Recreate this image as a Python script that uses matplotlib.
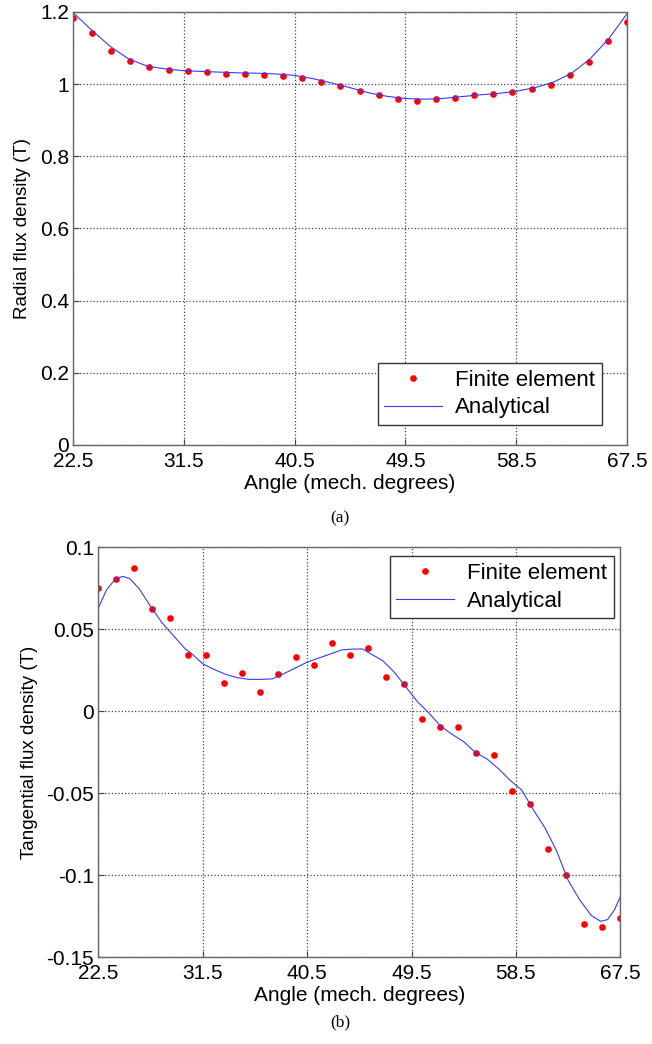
import numpy as np
import matplotlib
matplotlib.use("Agg")
import matplotlib.pyplot as plt
from matplotlib.ticker import FuncFormatter

plt.rcParams['font.family'] = ['Liberation Sans', 'DejaVu Sans']
plt.rcParams['axes.unicode_minus'] = False

# finite element samples: 30 points from 22.5 to 67.5 deg
fe_angle = np.linspace(22.5, 67.5, 30)
fe_radial = [1.184, 1.142, 1.092, 1.064, 1.046, 1.039, 1.036, 1.033, 1.029, 1.029,
             1.026, 1.022, 1.018, 1.005, 0.995, 0.980, 0.969, 0.959, 0.954, 0.959,
             0.962, 0.969, 0.973, 0.977, 0.987, 0.997, 1.025, 1.060, 1.120, 1.172]
fe_tangential = [0.0754, 0.0805, 0.0872, 0.0627, 0.0570, 0.0342, 0.0342, 0.0172, 0.0231, 0.0121,
                 0.0225, 0.0334, 0.0283, 0.0415, 0.0342, 0.0387, 0.0211, 0.0166, -0.0049, -0.0093,
                 -0.0093, -0.0255, -0.0269, -0.0484, -0.0564, -0.0837, -0.0999, -0.1299, -0.1315, -0.1262]

# analytical solution
an_angle_r = np.arange(22.5, 67.6, 1.5)
an_radial = [1.198, 1.150, 1.105, 1.070, 1.050, 1.042, 1.037, 1.035, 1.033, 1.031,
             1.030, 1.028, 1.024, 1.015, 1.003, 0.990, 0.976, 0.966, 0.960, 0.958,
             0.960, 0.965, 0.970, 0.974, 0.980, 0.990, 1.005, 1.030, 1.070, 1.125, 1.195]
an_angle_t = [22.5, 23.2, 24.0, 24.6, 25.2, 26.0, 27.0, 28.0, 29.0, 30.0,
              30.5, 31.5, 32.5, 33.5, 34.5, 35.5, 36.5, 37.5, 38.5, 39.5,
              40.5, 41.5, 42.5, 43.5, 44.5, 45.3, 46.0, 47.0, 48.0, 49.0,
              50.0, 51.0, 52.0, 53.0, 54.0, 55.0, 56.0, 57.0, 58.0, 59.0,
              60.0, 61.0, 62.0, 63.0, 64.0, 65.0, 65.8, 66.4, 67.0, 67.5]
an_tangential = [0.063, 0.074, 0.081, 0.0823, 0.081, 0.075, 0.064, 0.054, 0.046, 0.038,
                 0.0355, 0.029, 0.0255, 0.0225, 0.0205, 0.0195, 0.0195, 0.0198, 0.023, 0.0265,
                 0.030, 0.0325, 0.035, 0.0375, 0.038, 0.038, 0.035, 0.031, 0.024, 0.015,
                 0.006, -0.001, -0.009, -0.014, -0.0185, -0.025, -0.029, -0.035, -0.042, -0.048,
                 -0.060, -0.071, -0.085, -0.103, -0.115, -0.1245, -0.128, -0.127, -0.121, -0.113]

xticks = [22.5, 31.5, 40.5, 49.5, 58.5, 67.5]

fig = plt.figure(figsize=(6.52, 10.44), dpi=100)
ax1 = fig.add_axes([0.112, 0.5738, 0.8497, 0.4148])
ax2 = fig.add_axes([0.1508, 0.0830, 0.8006, 0.3927])


def style(ax, ylabel, yticks, ylim):
    ax.set_xlim(22.5, 67.5)
    ax.set_ylim(*ylim)
    ax.set_xticks(xticks)
    ax.set_xticklabels([str(t) for t in xticks])
    ax.set_yticks(yticks)
    ax.yaxis.set_major_formatter(FuncFormatter(lambda v, p: '%g' % round(v, 4)))
    ax.grid(True, linestyle=':', color='#444444', linewidth=0.9)
    ax.tick_params(direction='in', labelsize=15, length=4, color='#444444')
    ax.tick_params(axis='x', pad=5)
    ax.tick_params(axis='y', pad=3)
    for s in ax.spines.values():
        s.set_color('#666666')
        s.set_linewidth(1.0)
    ax.set_xlabel('Angle (mech. degrees)', fontsize=15, labelpad=2)
    ax.set_ylabel(ylabel, fontsize=13.5, labelpad=6)


leg_kw = dict(fontsize=16, fancybox=False, edgecolor='#333333', framealpha=1,
              borderpad=0.3, labelspacing=0.3, handlelength=2.6, handletextpad=0.6,
              borderaxespad=0, numpoints=1)

ax1.plot(fe_angle, fe_radial, 'o', color='red', ms=4.8, mec='none', label='Finite element')
ax1.plot(an_angle_r, an_radial, '-', color='#3a3aff', lw=0.8, label='Analytical')
style(ax1, 'Radial flux density (T)', [0, 0.2, 0.4, 0.6, 0.8, 1, 1.2], (0, 1.2))
ax1.legend(loc='lower right', bbox_to_anchor=(0.955, 0.046), **leg_kw)

ax2.plot(fe_angle, fe_tangential, 'o', color='red', ms=4.8, mec='none', label='Finite element')
ax2.plot(an_angle_t, an_tangential, '-', color='#3a3aff', lw=0.8, label='Analytical')
style(ax2, 'Tangential flux density (T)', [-0.15, -0.1, -0.05, 0, 0.05, 0.1], (-0.15, 0.1))
ax2.legend(loc='upper right', bbox_to_anchor=(0.988, 0.978), **leg_kw)

fig.text(0.5215, 1 - 518 / 1044, '(a)', family='Liberation Serif', fontsize=12.5, ha='center', va='center')
fig.text(0.5215, 1 - 1022 / 1044, '(b)', family='Liberation Serif', fontsize=12.5, ha='center', va='center')

fig.savefig('out.png', dpi=100)
